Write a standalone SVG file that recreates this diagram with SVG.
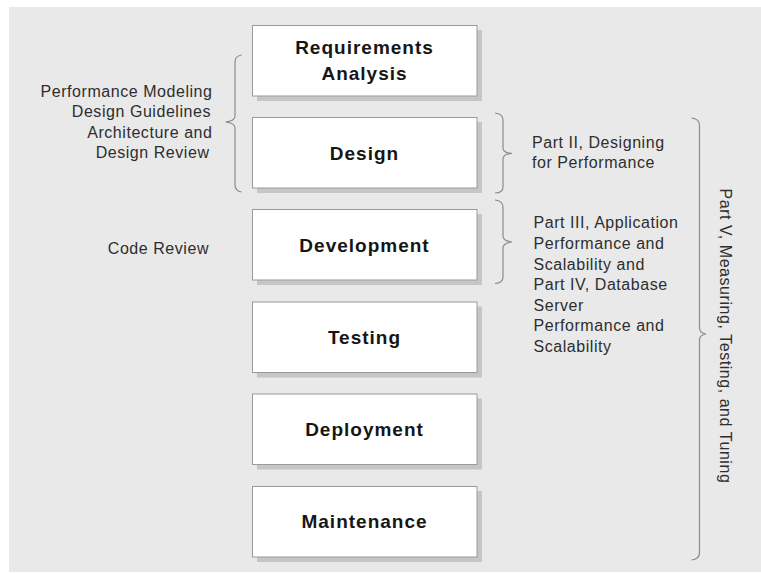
<svg xmlns="http://www.w3.org/2000/svg" width="761" height="573" viewBox="0 0 761 573">
<defs>
<style>
.bg{fill:#e9e9e9}
.shadow{fill:#c6c6c6}
.box{fill:#ffffff;stroke:#9a9a9a;stroke-width:1}
.lbl{font-family:"Liberation Sans",Arial,sans-serif;font-weight:bold;font-size:19px;letter-spacing:1px;fill:#161616;text-anchor:middle}
.note{font-family:"Liberation Sans",Arial,sans-serif;font-size:16px;letter-spacing:0.55px;fill:#2e2e2e}
.end{text-anchor:end}
.brace{fill:none;stroke:#8c8c8c;stroke-width:1.2}
</style>
</defs>
<rect class="bg" x="9" y="7" width="752" height="565"/>

<g id="requirements-analysis">
<rect class="shadow" x="257" y="30" width="225" height="71"/>
<rect class="box" x="252.5" y="25.5" width="224.5" height="70.5"/>
<text class="lbl" x="364.5" y="54.3">Requirements</text>
<text class="lbl" x="364.5" y="80">Analysis</text>
</g>
<g id="design">
<rect class="shadow" x="257" y="122" width="225" height="71"/>
<rect class="box" x="252.5" y="117.5" width="224.5" height="70.5"/>
<text class="lbl" x="364.5" y="159.5">Design</text>
</g>
<g id="development">
<rect class="shadow" x="257" y="214" width="225" height="71"/>
<rect class="box" x="252.5" y="209.5" width="224.5" height="70.5"/>
<text class="lbl" x="364.5" y="251.5">Development</text>
</g>
<g id="testing">
<rect class="shadow" x="257" y="306.5" width="225" height="71"/>
<rect class="box" x="252.5" y="302" width="224.5" height="70.5"/>
<text class="lbl" x="364.5" y="343.5">Testing</text>
</g>
<g id="deployment">
<rect class="shadow" x="257" y="398.5" width="225" height="71"/>
<rect class="box" x="252.5" y="394" width="224.5" height="70.5"/>
<text class="lbl" x="364.5" y="435.5">Deployment</text>
</g>
<g id="maintenance">
<rect class="shadow" x="257" y="491" width="225" height="71"/>
<rect class="box" x="252.5" y="486.5" width="224.5" height="70.5"/>
<text class="lbl" x="364.5" y="528">Maintenance</text>
</g>

<g id="connectors">
<path class="brace" d="M241.5,55 Q235,56 235,62 L235,116 Q235,121 225.5,122 Q235,123 235,128 L235,185 Q235,191 241.5,192"/>
<path class="brace" d="M495,113 Q503,114 503,120 L503,148 Q503,153 512,153.5 Q503,154 503,159 L503,187 Q503,193 495,193"/>
<path class="brace" d="M495,200 Q503,201 503,207 L503,236 Q503,241 512,242 Q503,243 503,248 L503,277 Q503,283 495,283.5"/>
<path class="brace" d="M691.5,118 Q699.5,119 699.5,125 L699.5,328 Q699.5,333 706,334 Q699.5,335 699.5,340 L699.5,553 Q699.5,559 691.5,560"/>
</g>

<g id="design-activities">
<text class="note end" x="212.5" y="97.3">Performance Modeling</text>
<text class="note end" x="211" y="117">Design Guidelines</text>
<text class="note end" x="212.5" y="137.5">Architecture and</text>
<text class="note end" x="209.5" y="157.5">Design Review</text>
</g>
<g id="development-activities">
<text class="note end" x="209" y="254.3">Code Review</text>
</g>
<g id="part-ii">
<text class="note" x="532" y="148.3">Part II, Designing</text>
<text class="note" x="532" y="168.3">for Performance</text>
</g>
<g id="part-iii-iv">
<text class="note" x="533.5" y="228.3">Part III, Application</text>
<text class="note" x="533.5" y="249">Performance and</text>
<text class="note" x="533.5" y="269.5">Scalability and</text>
<text class="note" x="533.5" y="290">Part IV, Database</text>
<text class="note" x="533.5" y="310.5">Server</text>
<text class="note" x="533.5" y="331">Performance and</text>
<text class="note" x="533.5" y="351.5">Scalability</text>
</g>
<g id="part-v">
<text class="note" transform="translate(719.5,188.5) rotate(90)">Part V, Measuring, Testing, and Tuning</text>
</g>
</svg>
